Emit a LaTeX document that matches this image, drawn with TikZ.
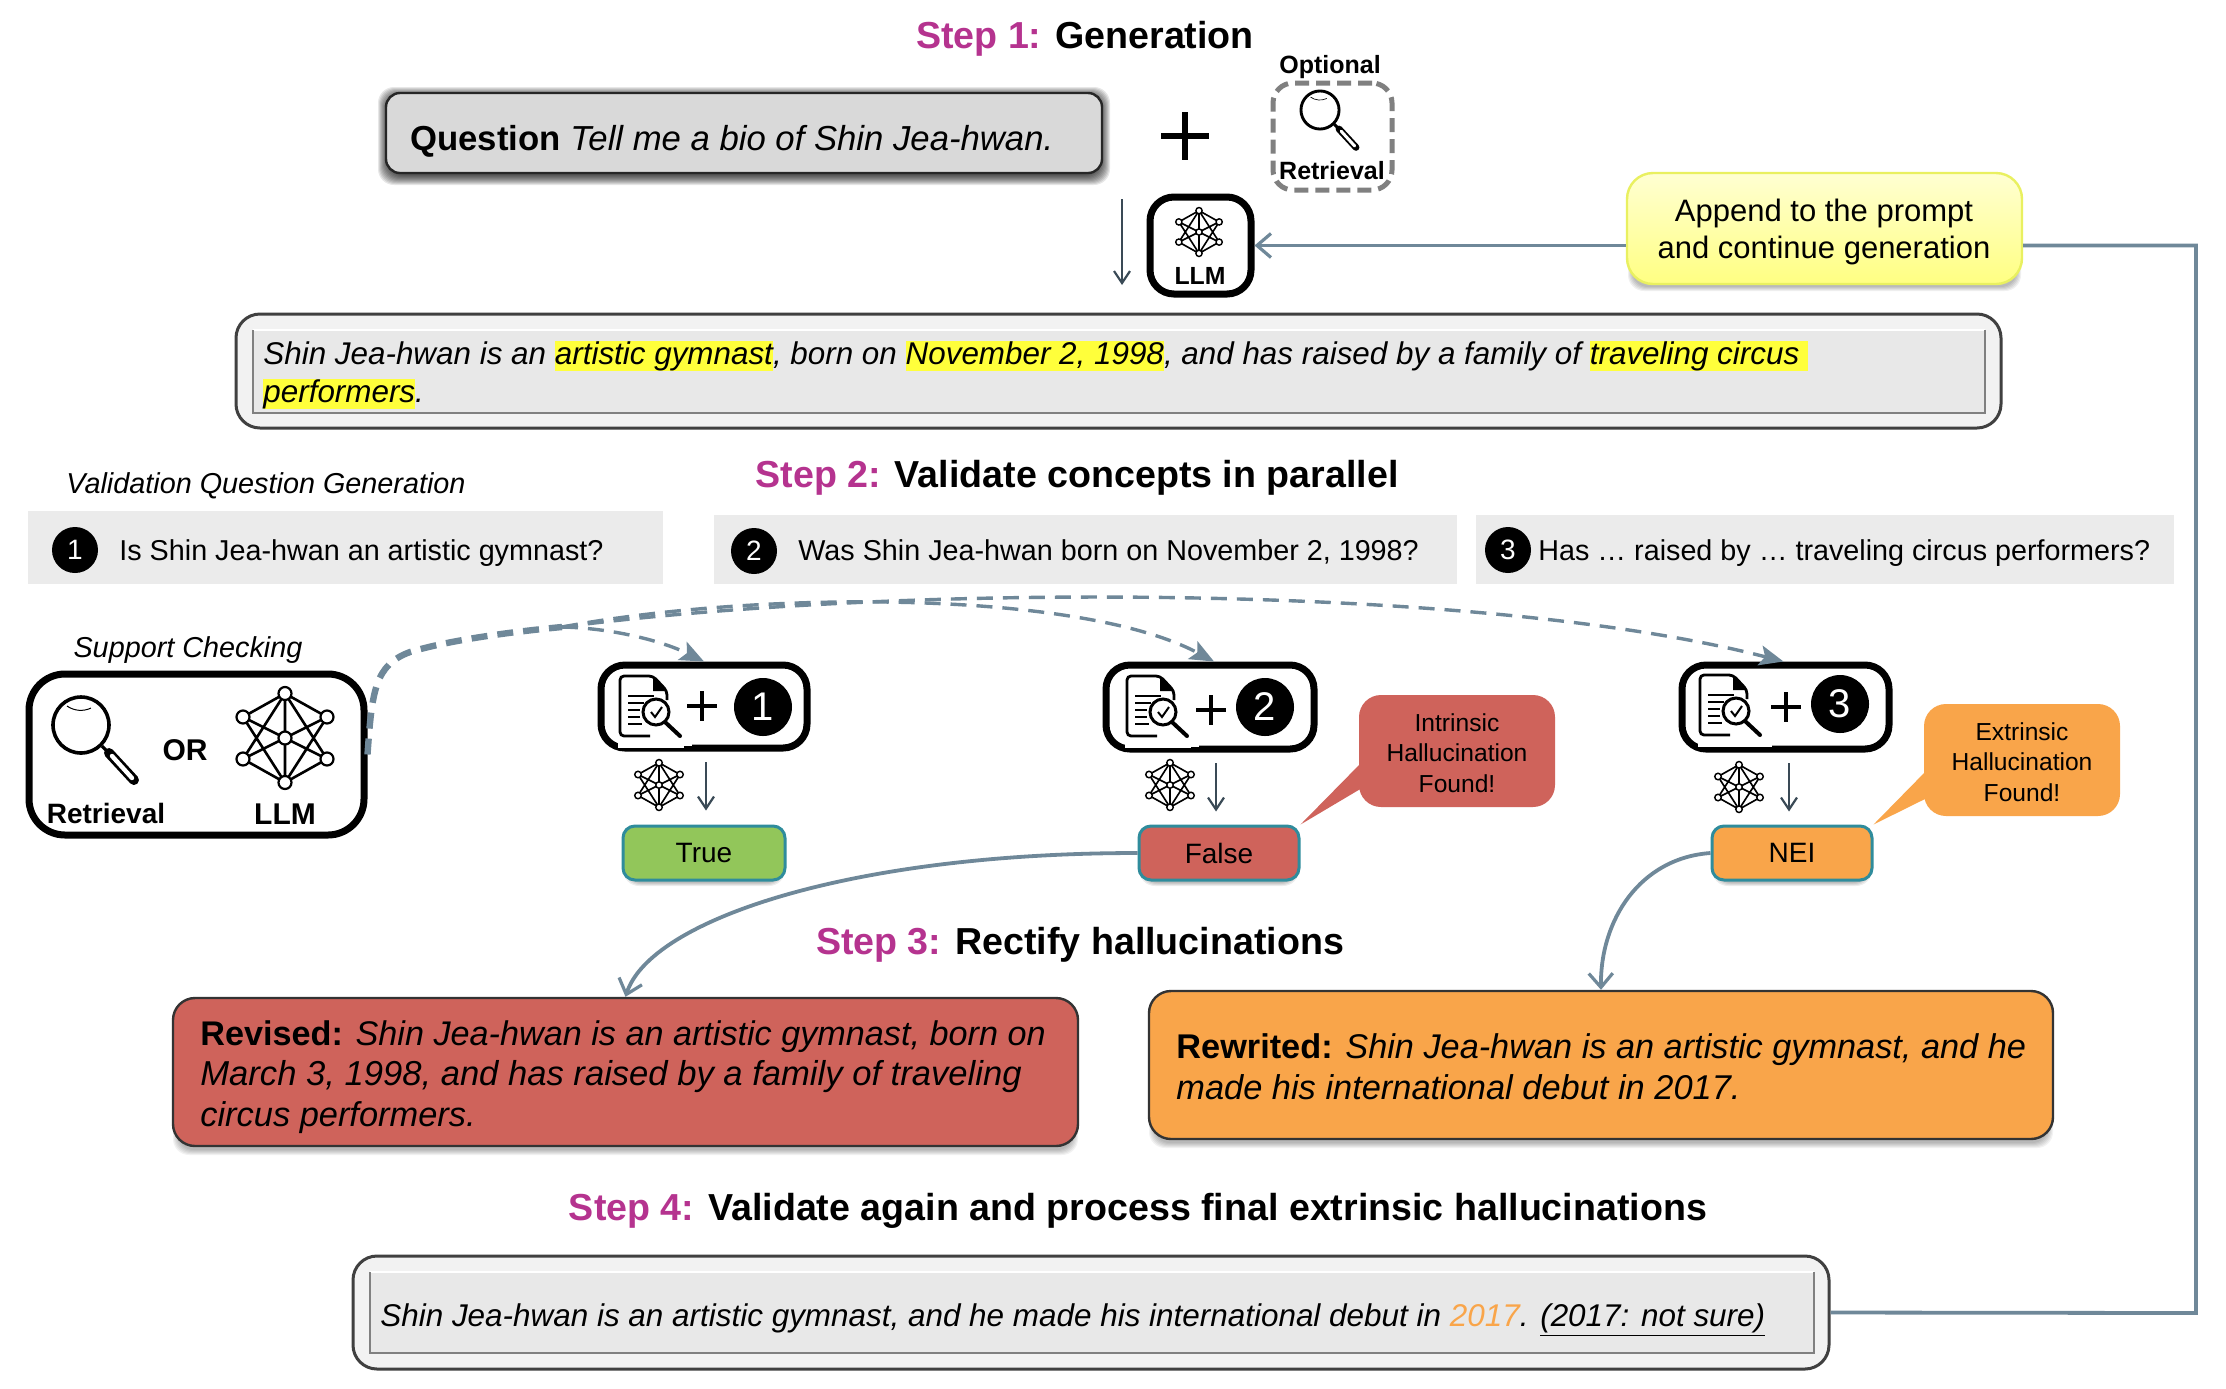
\documentclass[tikz,border=0pt]{standalone}
\usepackage{fontspec}
\setmainfont{Liberation Sans}
\usetikzlibrary{arrows.meta,calc}
\definecolor{stepc}{HTML}{B5338F}
\definecolor{conn}{HTML}{6F8899}
\definecolor{darr}{HTML}{3A4A56}
\definecolor{hly}{HTML}{FFFF3B}
\definecolor{redf}{HTML}{CF635B}
\definecolor{orgf}{HTML}{F9A54A}
\definecolor{grnf}{HTML}{92C65A}
\definecolor{teal}{HTML}{2F8C9C}
\definecolor{gbox}{HTML}{EBEBEB}
\definecolor{yeltop}{HTML}{FFFFD2}
\definecolor{yelbot}{HTML}{FFFF82}
\definecolor{yeld}{HTML}{E9F060}
\newcommand\fs[1]{\fontsize{#1}{#1}\selectfont}
\setlength\fboxsep{0pt}
\newcommand\hlt[1]{\colorbox{hly}{\vphantom{Ag}#1}}
% box from corners, in reference pixels
\newcommand\bx[7][]{%
  \pgfmathsetmacro\bxcx{(#3+#5)/2}\pgfmathsetmacro\bxcy{(#4+#6)/2}%
  \pgfmathsetmacro\bxw{(#5-#3)*0.5}\pgfmathsetmacro\bxh{(#6-#4)*0.5}%
  \node[#1,minimum width=\bxw pt,minimum height=\bxh pt,inner sep=0pt] (#2) at (\bxcx,\bxcy) {#7};}
\newcommand\softsh[7]{% x1 y1 x2 y2 spread dy opacity
  \foreach \k in {1,...,#5}{\fill[black,opacity=#7,rounded corners=8pt] ({#1-\k},{#2-\k+#6}) rectangle ({#3+\k},{#4+\k+#6});}}
\tikzset{
  title/.style={anchor=base,inner sep=0pt,font=\fs{18.8}\bfseries},
  ltxt/.style={anchor=base west,inner sep=0pt},
  ctxt/.style={anchor=center,inner sep=0pt,align=center},
  thickbox/.style={draw=black,line width=3.5pt,fill=white,rounded corners=12pt},
  verdict/.style={draw=teal,line width=1.5pt,rounded corners=6pt,font=\fs{14}},
  bigbox/.style={draw=black!80,line width=1.2pt,rounded corners=11pt},
  framebox/.style={draw=black!75,line width=1.5pt,fill=black!5,rounded corners=12pt},
  innerbox/.style={fill=black!9},
  greybox/.style={fill=gbox},
  callout/.style={rounded corners=11pt},
  ctext/.style={ctxt,font=\fs{12.3}},
  numc/.style={circle,fill=black,text=white,inner sep=0pt},
  solidconn/.style={draw=conn,line width=1.9pt,-{Straight Barb[length=7pt,width=12pt,line width=1.6pt]}},
  dashconn/.style={draw=conn,line width=1.7pt,dash pattern=on 8pt off 5pt},
  dtip/.style={-{Stealth[length=12pt,width=10pt,inset=2.5pt]}},
  downarr/.style={draw=darr,line width=1.3pt,-{Straight Barb[length=6pt,width=8pt,line width=1.1pt]}},
  net/.pic={
    \coordinate (T) at (0,-44.5*#1); \coordinate (B) at (0,44.5*#1);
    \coordinate (UL) at (-42*#1,-21*#1); \coordinate (UR) at (42*#1,-21*#1);
    \coordinate (LL) at (-42*#1,21*#1); \coordinate (LR) at (42*#1,21*#1);
    \coordinate (C) at (0,0);
    \draw[line width=0.35pt+0.95pt*#1] (T)--(UL) (T)--(UR) (B)--(LL) (B)--(LR)
      (T)--(LL) (T)--(LR) (B)--(UL) (B)--(UR) (T)--(B) (UL)--(LR) (UR)--(LL);
    \foreach \p in {T,B,UL,UR,LL,LR,C}
      \draw[line width=0.35pt+0.75pt*#1,fill=white] (\p) circle (6.5*#1);
  },
  lens/.pic={
    \draw[line width=0.7pt+1.1pt*#1,fill=white] (0,0) circle (28*#1);
    \draw[line width=0.5pt*#1] (-14*#1,-19*#1) arc (125:65:24*#1);
    \draw[line width=1.2pt+0.4pt*#1] (21*#1,21*#1)--(28*#1,28*#1);
    \draw[line width=5pt*#1,line cap=round] (28*#1,28*#1)--(53*#1,55*#1);
    \draw[white,line width=2.2pt*#1,line cap=round] (31*#1,31*#1)--(51*#1,53*#1);
  },
  docico/.pic={
    \fill[white] (-2,-2) rectangle (64,72);
    \draw[line width=1.4pt,rounded corners=2pt] (47,24)--(47,15)--(33,0)--(0,0)--(0,60)--(30,60);
    \fill (33,0)--(47,15)--(33,15)--cycle;
    \draw[line width=1.2pt] (8,20)--(34,20) (8,27)--(24,27) (8,34)--(20,34) (8,41)--(20,41) (8,48)--(22,48);
    \draw[line width=1.5pt,fill=white] (36,36) circle (13);
    \draw[line width=1pt] (31,36)--(35,41)--(42,31);
    \draw[line width=2pt,line cap=round] (45,46)--(60,60);
  }
}
\begin{document}
\begin{tikzpicture}[x=0.5pt,y=-0.5pt,every node/.style={text=black}]
\useasboundingbox (0,0) rectangle (2226,1388);
\fill[white] (0,0) rectangle (2226,1388);
% ---- Step 1
\node[title] (s1) at (1085,48) {\textcolor{stepc}{Step 1:} Generation};
\softsh{390}{96}{1098}{170}{12}{3}{0.095}
\bx[draw=black!85,line width=1.2pt,fill=black!15,rounded corners=7pt]{q}{386}{93}{1102}{173}{}
\node[ltxt,font=\fs{17.35}] (qt) at (410,150) {\textbf{Question} \textit{Tell me a bio of Shin Jea-hwan.}};
\node[ctxt,font=\fs{27}] (plus) at (1185,136) {};
\draw[line width=2.6pt] (1185,112)--(1185,160) (1161,136)--(1209,136);
\node[ctxt,font=\fs{12.5}\bfseries] (opt) at (1330,67) {Optional};
\bx[draw=black!50,line width=2.5pt,dash pattern=on 7pt off 3.5pt,rounded corners=10pt]{ret}{1273}{83}{1392}{190}{}
\pic at (1320,110) {lens=0.68};
\node[ctxt,font=\fs{12.5}\bfseries] (rt) at (1332,171) {Retrieval};
\bx[thickbox]{llm}{1150}{197}{1251}{294}{}
\pic at (1199,232) {net=0.48};
\node[ctxt,font=\fs{12.4}\bfseries] (llmt) at (1200,276) {LLM};
\coordinate (a0s) at (1122,199); \coordinate (a0e) at (1122,285);
\draw[downarr] (a0s)--(a0e);
\softsh{1633}{177}{2016}{280}{5}{6}{0.06}
\bx[draw=yeld,line width=1.2pt,top color=yeltop,bottom color=yelbot,rounded corners=13pt]{note}{1627}{173}{2022}{284}{}
\node[ctxt,font=\fs{15.5}] (notet) at (1824,232) {Append to the prompt\\[3pt]and continue generation};
\draw[solidconn] (note.west |- llm.east)--(llm.east);
% generated sentence
\bx[framebox]{gen}{236}{314}{2001}{428}{}
\bx[innerbox]{genin}{253}{330}{1985}{413}{}
\draw[white,line width=1.2pt] (253,330)--(1985,330);
\draw[black!50,line width=1pt] (253,330)--(253,413)--(1985,413)--(1985,330);
\node[ltxt,font=\fs{15.7}\itshape] (g1) at (263,364) {Shin Jea-hwan is an \hlt{artistic gymnast}, born on \hlt{November 2, 1998}, and has raised by a family of \hlt{traveling circus\ }};
\node[ltxt,font=\fs{15.7}\itshape] (g2) at (263,402) {\hlt{performers}.};
% ---- Step 2
\node[title] (s2) at (1077,487) {\textcolor{stepc}{Step 2:} Validate concepts in parallel};
\node[ltxt,font=\fs{14.4}\itshape] (vq) at (66,493) {Validation Question Generation};
\bx[greybox]{q1}{28}{511}{663}{584}{}
\bx[greybox]{q2}{714}{515}{1457}{584}{}
\bx[greybox]{q3}{1476}{515}{2174}{584}{}
\node[numc,minimum size=23pt,font=\fs{14}] (n1) at (75,550) {1};
\node[numc,minimum size=23pt,font=\fs{14}] (n2) at (754,551) {2};
\node[numc,minimum size=23pt,font=\fs{14}] (n3) at (1508,550) {3};
\node[ltxt,font=\fs{14.37}] (q1t) at (119,560) {Is Shin Jea-hwan an artistic gymnast?};
\node[ltxt,font=\fs{14.37}] (q2t) at (798,560) {Was Shin Jea-hwan born on November 2, 1998?};
\node[ltxt,font=\fs{14.37}] (q3t) at (1538,560) {Has … raised by … traveling circus performers?};
% support checking
\node[ctxt,font=\fs{14.4}\itshape] (sc) at (188,650) {Support Checking};
\bx[thickbox,rounded corners=18pt]{sup}{29}{674}{364}{835}{}
\pic at (81,725) {lens=1};
\node[ctxt,font=\fs{15}\bfseries] (ort) at (185,750) {OR};
\pic at (285,738) {net=1};
\node[ctxt,font=\fs{14}\bfseries] (rt2) at (106,813) {Retrieval};
\node[ctxt,font=\fs{15}\bfseries] (lt2) at (285,814) {LLM};
% evidence boxes
\bx[thickbox]{b1}{601}{665}{807}{748}{}
\fill[white] (618,672) rectangle (692,746);
\pic at (620,676) {docico};
\draw[line width=1.8pt] (702,691)--(702,721) (687,706)--(717,706);
\node[numc,minimum size=29pt,font=\fs{20}] (c1) at (763,707) {1};
\bx[thickbox]{b2}{1106}{665}{1314}{749}{}
\fill[white] (1125,672) rectangle (1199,747);
\pic at (1127,676) {docico};
\draw[line width=1.8pt] (1211,695)--(1211,725) (1196,710)--(1226,710);
\node[numc,minimum size=29pt,font=\fs{20}] (c2) at (1265,707) {2};
\bx[thickbox]{b3}{1682}{665}{1889}{749}{}
\fill[white] (1698,672) rectangle (1772,747);
\pic at (1700,675) {docico};
\draw[line width=1.8pt] (1786,692)--(1786,722) (1771,707)--(1801,707);
\node[numc,minimum size=29pt,font=\fs{20}] (c3) at (1840,704) {3};
\pic at (659,785) {net=0.5};
\pic at (1170,785) {net=0.5};
\pic at (1739,787) {net=0.5};
% verdicts
\softsh{627}{830}{781}{876}{4}{6}{0.07}
\bx[verdict,fill=grnf]{tr}{623}{826}{785}{880}{\raisebox{-1pt}{True}}
\softsh{1143}{830}{1295}{876}{4}{6}{0.07}
\bx[verdict,fill=redf]{fa}{1139}{826}{1299}{880}{\raisebox{-1pt}{False}}
\softsh{1716}{830}{1868}{876}{4}{6}{0.07}
\bx[verdict,fill=orgf]{ne}{1712}{826}{1872}{880}{\raisebox{-1pt}{NEI}}
\coordinate (a1s) at (706,762); \coordinate (a2s) at (1216,763); \coordinate (a3s) at (1789,763);
\draw[downarr,shorten >=7pt] (a1s)--(a1s |- tr.north);
\draw[downarr,shorten >=6.5pt] (a2s)--(a2s |- fa.north);
\draw[downarr,shorten >=6.5pt] (a3s)--(a3s |- ne.north);
% callouts
\bx[callout,fill=redf]{cr}{1359}{695}{1555}{807}{}
\fill[redf] (fa.north east)--(1362,762)--(1362,788)--cycle;
\node[ctext] (crt) at (1457,753) {Intrinsic\\[3pt]Hallucination\\[3pt]Found!};
\bx[callout,fill=orgf]{co}{1924}{704}{2120}{816}{}
\fill[orgf] (ne.north east)--(1927,770)--(1927,798)--cycle;
\node[ctext] (cot) at (2022,762) {Extrinsic\\[3pt]Hallucination\\[3pt]Found!};
% dashed fan-out
\coordinate (tr0) at (562,627);
\draw[dashconn,line width=3.2pt] (sup.east) .. controls (372,690) and (375,665) .. (410,652) .. controls (450,640) and (510,632) .. (tr0);
\draw[dashconn,dtip] (tr0) .. controls (610,628) and (660,640) .. (b1.north);
\draw[dashconn,dtip] (tr0) .. controls (760,590) and (1080,590) .. ([xshift=2pt]b2.north);
\draw[dashconn,dtip] (tr0) .. controls (900,583) and (1480,583) .. ([xshift=-1pt]b3.north);
% ---- Step 3
\node[title] (s3) at (1080,954) {\textcolor{stepc}{Step 3:} Rectify hallucinations};
\softsh{179}{1002}{1072}{1142}{6}{7}{0.05}
\bx[bigbox,fill=redf]{rev}{173}{998}{1078}{1146}{}
\node[ltxt,font=\fs{17.1}] (r1) at (200,1045) {\textbf{Revised:} \textit{Shin Jea-hwan is an artistic gymnast, born on}};
\node[ltxt,font=\fs{17.3}\itshape] (r2) at (200,1085) {March 3, 1998, and has raised by a family of traveling};
\node[ltxt,font=\fs{17.2}\itshape] (r3) at (200,1126) {circus performers.};
\softsh{1155}{995}{2047}{1135}{6}{7}{0.05}
\bx[bigbox,fill=orgf]{rew}{1149}{991}{2053}{1139}{}
\node[ltxt,font=\fs{17.15}] (w1) at (1176,1058) {\textbf{Rewrited:} \textit{Shin Jea-hwan is an artistic gymnast, and he}};
\node[ltxt,font=\fs{17.2}\itshape] (w2) at (1176,1099) {made his international debut in 2017.};
\draw[solidconn] (fa.west) .. controls (850,853) and (650,920) .. (rev.north);
\draw[solidconn] (ne.west) .. controls (1640,858) and (1600,920) .. (rew.north);
% ---- Step 4
\node[title] (s4) at (1138,1220) {\textcolor{stepc}{Step 4:} Validate again and process final extrinsic hallucinations};
\bx[framebox]{fin}{353}{1256}{1829}{1369}{}
\bx[innerbox]{finin}{370}{1272}{1814}{1353}{}
\draw[white,line width=1.2pt] (370,1272)--(1814,1272);
\draw[black!50,line width=1pt] (370,1272)--(370,1353)--(1814,1353)--(1814,1272);
\node[ltxt,font=\fs{15.72}\itshape] (ft) at (380,1326) {Shin Jea-hwan is an artistic gymnast, and he made his international debut in \textcolor{orgf}{2017}. \underline{(2017: not sure)}};
% feedback line
\coordinate (cor) at (2196,1313);
\draw[draw=conn,line width=1.9pt] (fin.east)--(cor)--(cor |- llm.east)--(note.east |- llm.east);
\end{tikzpicture}
\end{document}
